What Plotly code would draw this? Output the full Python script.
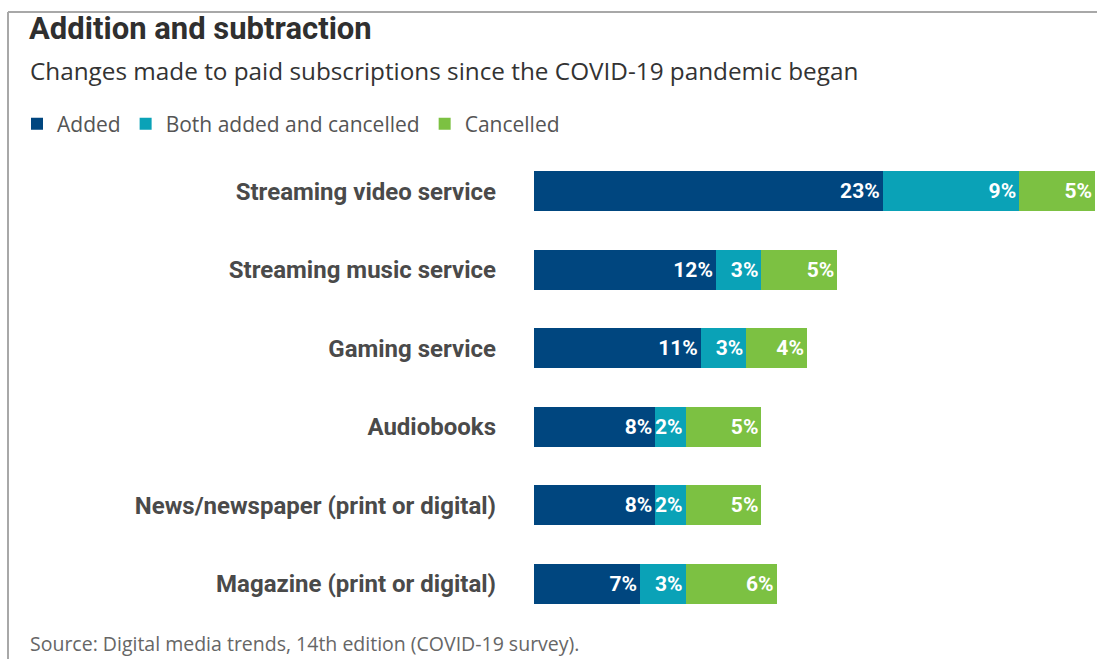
import plotly.graph_objects as go

categories = [
    "Streaming video service",
    "Streaming music service",
    "Gaming service",
    "Audiobooks",
    "News/newspaper (print or digital)",
    "Magazine (print or digital)",
]
added = [23, 12, 11, 8, 8, 7]
both = [9, 3, 3, 2, 2, 3]
cancelled = [5, 5, 4, 5, 5, 6]

series = [
    ("Added", added, "#00467f"),
    ("Both added and cancelled", both, "#0aa2b7"),
    ("Cancelled", cancelled, "#7cc142"),
]

HEAD = "Roboto, Liberation Sans, sans-serif"
BODY = "Open Sans, Noto Sans, sans-serif"

W, H = 1097, 659

fig = go.Figure()
for name, vals, color in series:
    fig.add_trace(go.Bar(
        name=name,
        y=categories,
        x=vals,
        orientation="h",
        marker=dict(color=color, line=dict(width=0)),
        text=[f"{v}%" for v in vals],
        textposition="inside",
        insidetextanchor="end",
        textangle=0,
        constraintext="none",
        cliponaxis=False,
        textfont=dict(family=HEAD, size=21, color="white", weight="bold"),
    ))

fig.update_layout(
    barmode="stack",
    bargap=0.49,
    width=W,
    height=H,
    margin=dict(l=534, r=2, t=152, b=36),
    paper_bgcolor="white",
    plot_bgcolor="white",
    showlegend=True,
    legend=dict(
        orientation="h",
        x=17 / W, xref="container",
        y=1 - 124 / H, yref="container",
        xanchor="left", yanchor="middle",
        font=dict(family=BODY, size=21, color="#555555"),
        itemwidth=30,
        traceorder="normal",
    ),
    xaxis=dict(range=[0, 37], visible=False, fixedrange=True),
    yaxis=dict(
        autorange="reversed",
        showgrid=False,
        showline=False,
        ticks="",
        ticklabelstandoff=37,
        tickfont=dict(family=HEAD, size=24, color="#4a4a4a", weight="bold"),
    ),
    shapes=[
        dict(type="line", xref="paper", yref="paper", x0=-526 / 561, x1=1.01,
             y0=1 + 140 / 471, y1=1 + 140 / 471, line=dict(color="#a8a8a8", width=2)),
        dict(type="line", xref="paper", yref="paper", x0=-526 / 561, x1=-526 / 561,
             y0=1 + 140 / 471, y1=-40 / 471, line=dict(color="#a8a8a8", width=2)),
    ],
    annotations=[
        dict(text="Addition and subtraction", xref="paper", yref="paper",
             x=-507 / 561, y=1 + 124 / 471, xanchor="left", yanchor="middle",
             showarrow=False,
             font=dict(family=HEAD, size=31, color="#2f2f2f", weight="bold")),
        dict(text="Changes made to paid subscriptions since the COVID-19 pandemic began",
             xref="paper", yref="paper", x=-506 / 561, y=1 + 82 / 471,
             xanchor="left", yanchor="middle", showarrow=False,
             font=dict(family=BODY, size=24.3, color="#333333")),
        dict(text="Source: Digital media trends, 14th edition (COVID-19 survey).",
             xref="paper", yref="paper", x=-506 / 561, y=-20 / 471,
             xanchor="left", yanchor="middle", showarrow=False,
             font=dict(family=BODY, size=19.5, color="#666666")),
    ],
)

fig.write_html("out.html")
